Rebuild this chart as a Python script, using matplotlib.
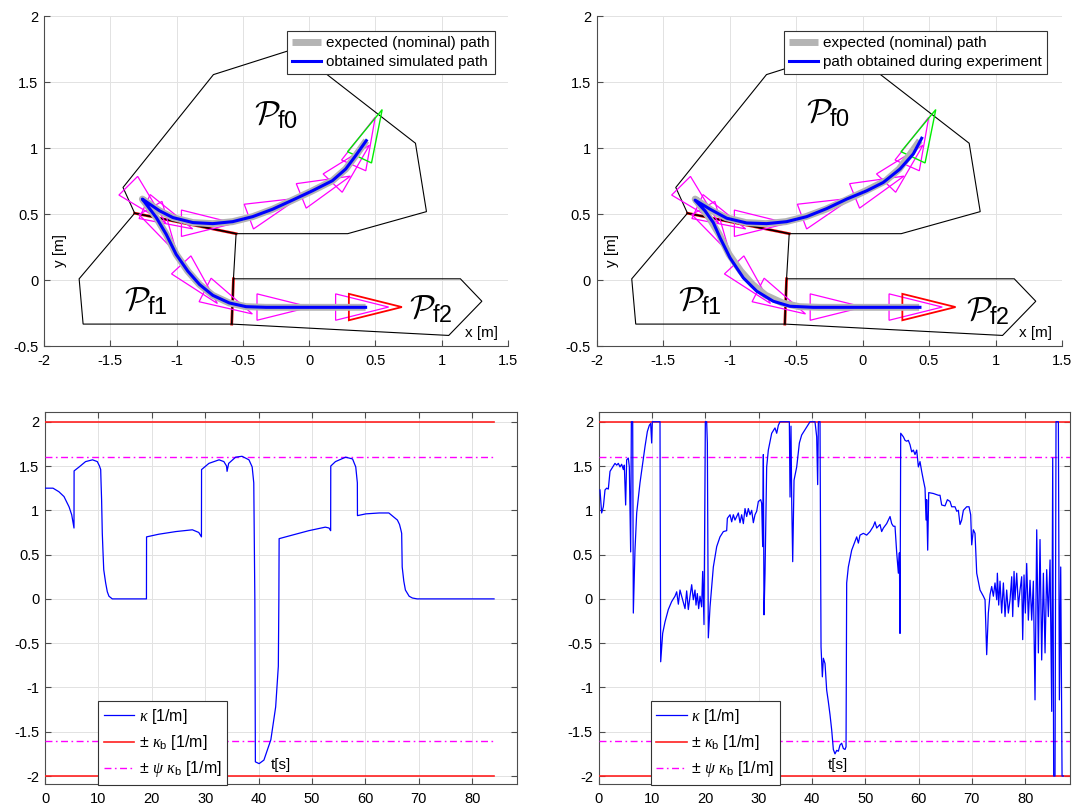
import numpy as np
import matplotlib
matplotlib.use("Agg")
import matplotlib.pyplot as plt
from matplotlib.patches import Polygon
from matplotlib.ticker import FuncFormatter, MultipleLocator

plt.rcParams['font.family'] = ['Liberation Sans', 'DejaVu Sans']
plt.rcParams['axes.unicode_minus'] = False
plt.rcParams['mathtext.fontset'] = 'custom'
plt.rcParams['mathtext.cal'] = 'cmsy10'
plt.rcParams['mathtext.rm'] = 'Liberation Sans'
plt.rcParams['mathtext.sf'] = 'Liberation Sans'
plt.rcParams['mathtext.it'] = 'Liberation Serif:italic'

# ---------------- data: top (paths) ----------------
poly_f0_x = [-1.404, -0.722, -0.205, -0.113, 0.802, 0.885, 0.291, -0.551, -1.316]
poly_f0_y = [0.701, 1.556, 1.721, 1.750, 1.036, 0.518, 0.351, 0.351, 0.506]
poly_f1_x = [-1.316, -1.735, -1.705, -0.584, -0.571, -0.551]
poly_f1_y = [0.506, 0.009, -0.334, -0.334, 0.009, 0.351]
poly_f2_x = [-0.571, 1.141, 1.303, 1.053, -0.584]
poly_f2_y = [0.009, 0.009, -0.161, -0.420, -0.334]
edge01_x = [-0.551, -1.316]
edge01_y = [0.351, 0.506]
edge12_x = [-0.584, -0.571]
edge12_y = [-0.334, 0.009]

nom_x = [0.431, 0.351, 0.276, 0.175, 0.025, -0.126, -0.276, -0.426, -0.577, -0.727, -0.877,
         -1.028, -1.128, -1.203, -1.258, -1.153, -1.078, -1.003, -0.915, -0.827, -0.727,
         -0.602, -0.476, -0.326, 0.426]
nom_y = [1.056, 0.942, 0.841, 0.752, 0.676, 0.605, 0.536, 0.480, 0.442, 0.427, 0.435,
         0.473, 0.524, 0.575, 0.613, 0.473, 0.346, 0.194, 0.067, -0.034, -0.116,
         -0.174, -0.202, -0.207, -0.207]
sim_x = [0.431, 0.351, 0.276, 0.175, 0.025, -0.126, -0.276, -0.426, -0.577, -0.727, -0.877,
         -1.028, -1.128, -1.203, -1.258, -1.153, -1.078, -1.003, -0.915, -0.827, -0.727,
         -0.602, -0.476, -0.326, 0.426]
sim_y = [1.056, 0.942, 0.841, 0.752, 0.676, 0.605, 0.536, 0.480, 0.442, 0.427, 0.435,
         0.473, 0.524, 0.575, 0.613, 0.473, 0.346, 0.194, 0.067, -0.034, -0.116,
         -0.174, -0.202, -0.207, -0.207]
exp_x = [0.445, 0.382, 0.282, 0.156, 0.032, -0.119, -0.269, -0.420, -0.570, -0.720, -0.871,
         -1.021, -1.147, -1.259, -1.184, -1.122, -1.071, -0.996, -0.896, -0.795, -0.671,
         -0.545, -0.370, 0.432]
exp_y = [1.074, 0.955, 0.841, 0.739, 0.676, 0.613, 0.541, 0.480, 0.442, 0.427, 0.432,
         0.468, 0.537, 0.605, 0.524, 0.435, 0.320, 0.168, 0.016, -0.085, -0.161,
         -0.199, -0.207, -0.207]

# robot poses shown as triangles (x, y, heading in degrees)
pose_x = [-1.27, -1.12, -1.13, -0.83, -0.33, 0.064, 0.27, 0.39, -0.874, -0.666, -0.26, 0.333]
pose_y = [0.62, 0.50, 0.43, 0.43, 0.527, 0.687, 0.83, 0.99, 0.017, -0.136, -0.205, -0.205]
pose_th = [-45, -25, -60, 0, 20.5, 22, 46, 66, -47, -27, 0, 0]
goal0 = (0.437, 1.05, 64.7)
goal2 = (0.433, -0.205, 0)

labels_P = [r'$\mathcal{P}_{\mathrm{f0}}$', r'$\mathcal{P}_{\mathrm{f1}}$', r'$\mathcal{P}_{\mathrm{f2}}$']
labP_left_x = [-0.25, -1.23, 0.915]
labP_left_y = [1.25, -0.16, -0.225]
labP_right_x = [-0.257, -1.222, 0.946]
labP_right_y = [1.26, -0.161, -0.237]

# ---------------- data: bottom (curvature) ----------------
t_sim = [0, 1.5, 2.6, 3.56, 4.5, 5.0, 5.43, 5.45, 6.4, 7.6, 8.9, 9.8, 10.2, 10.43, 10.5, 10.6,
         10.73, 10.85, 11.0, 11.36, 11.67, 11.98, 12.6, 19.0, 19.02, 21.3, 24.5, 27.6, 28.8,
         29.3, 29.32, 30.7, 32.6, 33.5, 34.0, 34.1, 34.4, 35.7, 36.9, 38.2, 38.8, 39.1, 39.3,
         39.4, 40.1, 41.0, 42.3, 43.2, 43.7, 43.8, 43.85, 46.3, 49.4, 52.5, 53.2, 53.5, 53.52,
         54.4, 56.3, 57.6, 58.2, 58.5, 58.52, 60.1, 62.6, 64.4, 66.0, 66.4, 66.65, 66.8, 66.9,
         67.2, 67.5, 68.2, 68.8, 69.7, 84.1]
k_sim = [1.25, 1.25, 1.21, 1.155, 1.04, 0.95, 0.80, 1.445, 1.49, 1.55, 1.57, 1.55, 1.50, 1.46,
         1.31, 1.12, 0.74, 0.55, 0.33, 0.18, 0.08, 0.03, 0.0, 0.0, 0.70, 0.73, 0.76, 0.78, 0.75,
         0.70, 1.46, 1.53, 1.57, 1.55, 1.50, 1.44, 1.53, 1.60, 1.61, 1.57, 1.49, 1.31, 0.0,
         -1.84, -1.86, -1.82, -1.59, -1.22, -0.76, 0.0, 0.68, 0.72, 0.77, 0.81, 0.80, 0.77, 1.50,
         1.55, 1.60, 1.58, 1.49, 1.31, 0.94, 0.96, 0.97, 0.97, 0.89, 0.84, 0.78, 0.74, 0.36,
         0.20, 0.10, 0.03, 0.01, 0.0, 0.0]

t_exp = [0.28, 0.59, 0.91, 1.22, 1.53, 1.84, 2.16, 2.47, 3.09, 3.41, 3.72, 4.03, 4.34, 4.66,
         4.84, 5.09, 5.28, 5.59, 5.78, 6.03, 6.16, 6.41, 6.53, 6.84, 7.16, 7.78, 8.41, 8.72,
         9.16, 9.53, 9.78, 9.97, 10.09, 11.53, 11.66, 12.03, 12.47, 13.09, 13.72, 14.34, 14.66,
         14.97, 15.28, 15.59, 15.91, 16.22, 16.53, 16.84, 17.16, 17.47, 17.78, 18.09, 18.28,
         18.53, 18.78, 19.03, 19.34, 19.53, 19.78, 20.03, 20.28, 20.41, 20.59, 20.91, 21.53,
         22.16, 22.78, 23.41, 24.03, 24.16, 24.66, 24.97, 25.28, 25.59, 25.91, 26.22, 26.53,
         26.84, 27.16, 27.47, 27.78, 28.09, 28.41, 28.72, 29.03, 29.34, 29.66, 29.97, 30.41,
         30.59, 30.78, 30.91, 31.03, 31.22, 31.53, 31.84, 32.47, 33.09, 33.41, 33.72, 34.03,
         35.78, 35.91, 36.09, 36.22, 36.41, 36.66, 37.16, 37.66, 38.09, 38.72, 39.16, 39.66,
         40.59, 40.91, 41.09, 41.22, 41.53, 41.72, 41.97, 42.16, 42.47, 42.78, 43.09, 43.41,
         43.72, 44.03, 44.34, 44.66, 44.97, 45.28, 45.59, 45.91, 46.22, 46.41, 46.53, 46.84,
         47.47, 48.09, 48.41, 48.72, 49.03, 49.66, 50.28, 50.91, 51.53, 51.84, 52.16, 52.78,
         53.09, 53.41, 54.03, 54.66, 54.97, 55.28, 55.59, 55.91, 56.22, 56.41, 56.53, 56.66,
         57.16, 57.47, 57.78, 58.09, 58.41, 58.72, 59.03, 59.34, 59.66, 59.97, 60.28, 60.59,
         60.91, 61.22, 61.41, 61.53, 61.72, 61.91, 62.78, 63.72, 64.03, 64.34, 64.97, 65.41,
         65.91, 66.22, 66.84, 67.16, 67.47, 67.78, 68.09, 68.41, 69.03, 69.47, 69.78, 69.97,
         70.28, 70.59, 70.91, 71.53, 72.16, 72.47, 72.78, 73.09, 73.41, 73.72, 74.03, 74.34,
         74.66, 74.78, 75.03, 75.28, 75.59, 75.91, 76.22, 76.53, 76.84, 77.16, 77.47, 77.66,
         77.91, 78.09, 78.41, 78.72, 79.03, 79.34, 79.53, 79.78, 80.03, 80.28, 80.59, 80.91,
         81.22, 81.53, 81.84, 82.16, 82.47, 82.78, 83.09, 83.41, 83.72, 84.03, 84.34, 84.66,
         84.97, 85.16, 85.34, 85.59, 85.78, 86.22, 86.41, 86.66, 86.91, 87.16]
k_exp = [1.23, 0.97, 1.04, 1.23, 1.25, 1.24, 1.44, 1.47, 1.53, 1.51, 1.53, 1.49, 1.52, 1.46,
         1.51, 1.06, 1.57, 1.59, 1.49, 0.53, 2.0, 2.0, -0.16, 0.55, 0.97, 1.31, 1.59, 1.72,
         1.89, 1.96, 1.98, 1.76, 2.0, 2.0, -0.71, -0.39, -0.26, -0.12, -0.03, 0.03, 0.08,
         -0.06, 0.10, 0.03, -0.04, -0.11, 0.09, -0.12, 0.03, 0.16, -0.01, 0.10, -0.07,
         0.06, -0.11, 0.03, -0.09, 0.31, -0.29, 2.0, 2.0, 1.76, -0.44, -0.09, 0.36,
         0.59, 0.70, 0.76, 0.77, 0.91, 0.95, 0.87, 0.95, 0.89, 0.93, 0.97, 0.86,
         0.95, 0.85, 1.02, 0.93, 1.02, 0.95, 1.00, 0.86, 0.95, 0.99, 1.10, 1.12,
         1.08, 0.59, 1.63, -0.18, 0.29, 1.49, 1.68, 1.87, 1.93, 1.87, 1.96, 2.0,
         2.0, 1.15, 1.95, 1.12, 0.42, 1.34, 1.49, 1.76, 1.85, 1.91, 1.95, 2.0,
         2.0, 1.83, 1.29, 2.0, 2.0, -0.54, -0.88, -0.67, -0.73, -1.03, -1.16, -1.31,
         -1.48, -1.70, -1.75, -1.71, -1.72, -1.65, -1.63, -1.69, -1.70, -1.67, 0.18, 0.36,
         0.55, 0.65, 0.70, 0.63, 0.72, 0.74, 0.72, 0.76, 0.82, 0.87, 0.80, 0.84,
         0.76, 0.80, 0.85, 0.93, 0.85, 0.82, 0.82, 0.52, 0.29, 0.52, -0.39, 1.87,
         1.83, 1.79, 1.78, 1.79, 1.74, 1.66, 1.68, 1.63, 1.68, 1.49, 1.55, 1.44,
         1.34, 1.25, 0.89, 1.12, 0.55, 1.20, 1.19, 1.17, 1.17, 1.06, 1.05, 1.12,
         1.10, 1.04, 1.04, 0.99, 1.00, 0.84, 0.89, 1.00, 1.04, 1.04, 0.95, 0.61,
         0.78, 0.74, 0.29, 0.10, 0.03, -0.01, -0.63, -0.16, 0.05, 0.14, 0.03, 0.18,
         -0.01, 0.29, -0.07, 0.20, -0.16, 0.18, -0.20, 0.10, -0.16, -0.01, 0.25, -0.20,
         0.31, -0.01, 0.29, -0.09, 0.10, 0.25, -0.46, 0.27, -0.16, 0.40, -0.24, 0.21,
         -0.24, 0.20, -1.14, 0.78, -0.61, 0.67, -0.69, 0.29, -0.61, 0.33, -0.20, 0.44,
         -1.27, 1.59, -2.0, -2.0, 2.0, 2.0, -1.14, 0.36, -2.0, -2.0]

kappa_b = 2.0
psi_kappa_b = 1.6

# ---------------- figure ----------------
W, H = 1073, 810
fig = plt.figure(figsize=(W / 100, H / 100), dpi=100)

def fax(l, t, r, b):
    return fig.add_axes([l / W, 1 - b / H, (r - l) / W, (b - t) / H])

ax_tl = fax(44, 16, 508, 346)
ax_tr = fax(596.5, 16, 1062, 346)
ax_bl = fax(45, 412, 517, 784)
ax_br = fax(598.5, 412, 1070, 784)

SPINE = '#4d4d4d'
GRID = '#e2e2e2'
fmt = FuncFormatter(lambda v, p: f'{v:g}')


def style(ax, box):
    ax.set_axisbelow(True)
    ax.grid(True, color=GRID, lw=0.7)
    for s in ax.spines.values():
        s.set_color(SPINE)
        s.set_linewidth(0.8)
    if not box:
        ax.spines['top'].set_visible(False)
        ax.spines['right'].set_visible(False)
    ax.tick_params(direction='in', length=4, width=0.8, color=SPINE, labelsize=10.5,
                   top=box, right=box, labelcolor='black')
    ax.tick_params(axis='y', pad=4)
    ax.tick_params(axis='x', pad=6)
    ax.xaxis.set_major_formatter(fmt)
    ax.yaxis.set_major_formatter(fmt)


def triangle(x, y, th, L=0.4, Wd=0.2):
    c, s = np.cos(np.radians(th)), np.sin(np.radians(th))
    apex = (x + 2 * L / 3 * c, y + 2 * L / 3 * s)
    bx, by = x - L / 3 * c, y - L / 3 * s
    b1 = (bx - Wd / 2 * s, by + Wd / 2 * c)
    b2 = (bx + Wd / 2 * s, by - Wd / 2 * c)
    return [apex, b1, b2]


def top_panel(ax, path_x, path_y, path_label, lx, ly, leg_right):
    style(ax, False)
    ax.set_xlim(-2, 1.5)
    ax.set_ylim(-0.5, 2)
    ax.xaxis.set_major_locator(MultipleLocator(0.5))
    ax.yaxis.set_major_locator(MultipleLocator(0.5))
    ax.plot(edge01_x, edge01_y, color='#e00000', lw=2.0, zorder=2)
    ax.plot(edge12_x, edge12_y, color='#e00000', lw=2.0, zorder=2)
    for px, py in [(poly_f0_x, poly_f0_y), (poly_f1_x, poly_f1_y), (poly_f2_x, poly_f2_y)]:
        ax.add_patch(Polygon(np.column_stack([px, py]), closed=True, fill=False,
                             edgecolor='black', lw=0.8, zorder=3))
    for x, y, th in zip(pose_x, pose_y, pose_th):
        ax.add_patch(Polygon(triangle(x, y, th), closed=True, fill=False,
                             edgecolor='#ff00ff', lw=0.9, zorder=4))
    ax.add_patch(Polygon(triangle(*goal0), closed=True, fill=False,
                         edgecolor='#00ee00', lw=1.0, zorder=4))
    ax.add_patch(Polygon(triangle(*goal2), closed=True, fill=False,
                         edgecolor='#ff0000', lw=1.3, zorder=4))
    h1, = ax.plot(nom_x, nom_y, color='#b4b4b4', lw=5, solid_capstyle='butt', zorder=5,
                  label='expected (nominal) path')
    h2, = ax.plot(path_x, path_y, color='#0000ff', lw=2.2, zorder=6, label=path_label)
    for s, x, y in zip(labels_P, lx, ly):
        ax.text(x, y, s, fontsize=24, ha='center', va='center', zorder=7)
    ax.text(1.30, -0.405, 'x [m]', fontsize=11, ha='center', va='center')
    ax.text(-1.88, 0.22, 'y [m]', fontsize=11, ha='center', va='center', rotation=90)
    leg = ax.legend(handles=[h1, h2], loc='upper right', bbox_to_anchor=(leg_right / W, 1 - 31 / H),
                    bbox_transform=fig.transFigure, borderaxespad=0, fontsize=11,
                    fancybox=False, framealpha=1, edgecolor='#333333', handlelength=1.9,
                    handletextpad=0.3, borderpad=0.35, labelspacing=0.3)
    leg.get_frame().set_linewidth(0.8)
    leg.set_zorder(10)


top_panel(ax_tl, sim_x, sim_y, 'obtained simulated path', labP_left_x, labP_left_y, 495)
top_panel(ax_tr, exp_x, exp_y, 'path obtained during experiment', labP_right_x, labP_right_y, 1047)


def bottom_panel(ax, t, k, full, leg_left, tlab_x):
    style(ax, True)
    ax.set_xlim(0, 88.4)
    ax.set_ylim(-2.09, 2.11)
    ax.xaxis.set_major_locator(MultipleLocator(10))
    ax.yaxis.set_major_locator(MultipleLocator(0.5))
    if full:
        x0, x1 = 0, 88.4
    else:
        x0, x1 = t[0], t[-1]
    dash = (0, (5, 2.5, 1.2, 2.5))
    h1, = ax.plot(t, k, color='#0000ff', lw=0.9, zorder=4)
    h2, = ax.plot([x0, x1], [kappa_b, kappa_b], color='#ff2020', lw=1.2, zorder=3)
    ax.plot([x0, x1], [-kappa_b, -kappa_b], color='#ff2020', lw=1.2, zorder=3)
    h3, = ax.plot([x0, x1], [psi_kappa_b, psi_kappa_b], color='#ff00ff', lw=1.0, ls=dash, zorder=3)
    ax.plot([x0, x1], [-psi_kappa_b, -psi_kappa_b], color='#ff00ff', lw=1.0, ls=dash, zorder=3)
    ax.text(tlab_x, -1.87, 't[s]', fontsize=11, ha='center', va='center', zorder=5)
    leg = ax.legend([h1, h2, h3],
                    [r'$\kappa$ [1/m]', r'$\pm$ $\kappa_{\mathrm{b}}$ [1/m]',
                     r'$\pm$ $\psi$ $\kappa_{\mathrm{b}}$ [1/m]'],
                    loc='lower left', bbox_to_anchor=(leg_left / W, 1 - 785 / H),
                    bbox_transform=fig.transFigure, borderaxespad=0, fontsize=11.5,
                    fancybox=False, framealpha=1, edgecolor='#333333', handlelength=1.9,
                    handletextpad=0.3, borderpad=0.35, labelspacing=0.45)
    leg.get_frame().set_linewidth(0.8)
    leg.set_zorder(10)


bottom_panel(ax_bl, t_sim, k_sim, False, 98.3, 44.1)
bottom_panel(ax_br, t_exp, k_exp, True, 650.7, 44.8)

fig.savefig('out.png', dpi=100)
